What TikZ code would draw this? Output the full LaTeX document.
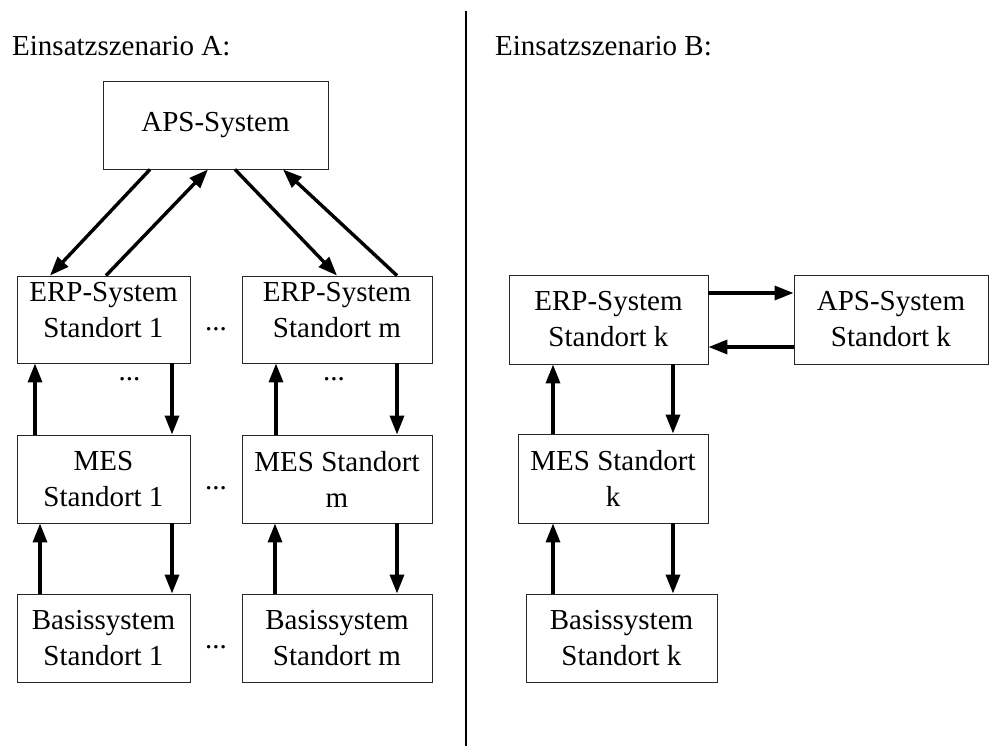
\documentclass[tikz,border=0pt]{standalone}
\usepackage{fontspec}
\setmainfont{Liberation Serif}
\usetikzlibrary{arrows.meta}

\begin{document}
\begin{tikzpicture}[x=1pt,y=-1pt,
  every node/.style={font=\fontsize{29}{36}\selectfont},
  sysbox/.style={draw=black!85, line width=0.9pt, align=center, inner sep=0pt,
                 minimum height=88pt},
  raised/.style={text depth=19pt},
  flow/.style={line width=3.4pt, -{Triangle[length=19pt,width=14pt]}},
  dots/.style={anchor=base, inner sep=0pt},
  title/.style={anchor=base west, inner sep=0pt}]

\useasboundingbox (0,0) rectangle (989,747);

% headings and the separating rule
\node[title] (titleA) at (12,55) {Einsatzszenario A:};
\node[title] (titleB) at (495,55) {Einsatzszenario B:};
\coordinate (divtop) at (466,11);
\coordinate (divbot) at (466,746);
\draw[line width=2.2pt] (divtop) -- (divbot);

% scenario A: one central APS for all sites
\node[sysbox, minimum width=225pt] (aps) at (215.5,125) {APS-System};

\node[sysbox, raised, minimum width=173pt, minimum height=87pt] (erp1) at (103.5,319.5) {ERP-System\\Standort 1};
\node[sysbox, raised, minimum width=190pt, minimum height=87pt] (erpm) at (337,319.5) {ERP-System\\Standort m};
\node[sysbox, minimum width=173pt] (mes1) at (103.5,479) {MES\\Standort 1};
\node[sysbox, minimum width=190pt] (mesm) at (337,479) {MES Standort\\m};
\node[sysbox, minimum width=173pt] (bas1) at (103.5,638) {Basissystem\\Standort 1};
\node[sysbox, minimum width=190pt] (basm) at (337,638) {Basissystem\\Standort m};

\node[dots] (dotsE) at (216,330) {...};
\node[dots] (dotsM) at (216,489) {...};
\node[dots] (dotsB) at (216,648) {...};
\node[dots] (dotsE1) at (129.5,380) {...};
\node[dots] (dotsEm) at (334,380) {...};

\draw[flow] (aps.south -| 150,0) -- (erp1.north -| 50,0);
\draw[flow] (erp1.north -| 106,0) -- (aps.south -| 208,0);
\draw[flow] (aps.south -| 235,0) -- (erpm.north -| 337,0);
\draw[flow] (erpm.north -| 397,0) -- (aps.south -| 283,0);

\draw[flow] (mes1.north -| 35,0) -- (erp1.south -| 35,0);
\draw[flow] (erp1.south -| 172,0) -- (mes1.north -| 172,0);
\draw[flow] (bas1.north -| 40,0) -- (mes1.south -| 40,0);
\draw[flow] (mes1.south -| 172,0) -- (bas1.north -| 172,0);

\draw[flow] (mesm.north -| 276,0) -- (erpm.south -| 276,0);
\draw[flow] (erpm.south -| 397,0) -- (mesm.north -| 397,0);
\draw[flow] (basm.north -| 275,0) -- (mesm.south -| 275,0);
\draw[flow] (mesm.south -| 397,0) -- (basm.north -| 397,0);

% scenario B: APS per site
\node[sysbox, minimum width=199pt, minimum height=89pt] (erpk) at (608.5,319.5) {ERP-System\\Standort k};
\node[sysbox, minimum width=194pt, minimum height=89pt] (apsk) at (891,319.5) {APS-System\\Standort k};
\node[sysbox, minimum width=190pt, minimum height=89pt] (mesk) at (613,478.5) {MES Standort\\k};
\node[sysbox, minimum width=191pt] (bask) at (621.5,638) {Basissystem\\Standort k};

\draw[flow] (erpk.east |- 0,293) -- (apsk.west |- 0,293);
\draw[flow] (apsk.west |- 0,347) -- (erpk.east |- 0,347);

\draw[flow] (mesk.north -| 553,0) -- (erpk.south -| 553,0);
\draw[flow] (erpk.south -| 673,0) -- (mesk.north -| 673,0);
\draw[flow] (bask.north -| 553,0) -- (mesk.south -| 553,0);
\draw[flow] (mesk.south -| 673,0) -- (bask.north -| 673,0);

\end{tikzpicture}
\end{document}
